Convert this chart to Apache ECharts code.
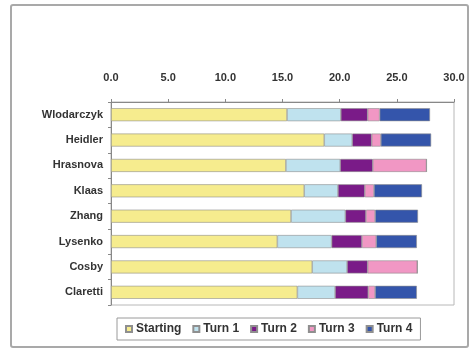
<!DOCTYPE html>
<html>
<head>
<meta charset="utf-8">
<script src="https://cdn.jsdelivr.net/npm/echarts@6/dist/echarts.min.js"></script>
<style>
  html, body { margin: 0; padding: 0; background: #ffffff; }
  #chart { width: 471px; height: 349px; }
</style>
</head>
<body>
<div id="chart"></div>
<script>
// Athletes, top row first
const athletes = ['Wlodarczyk', 'Heidler', 'Hrasnova', 'Klaas', 'Zhang', 'Lysenko', 'Cosby', 'Claretti'];

// Time spent in each phase of the throw
const starting = [15.4, 18.65, 15.3, 16.9, 15.75, 14.55, 17.6, 16.3];
const turn1    = [4.7, 2.45, 4.75, 2.95, 4.75, 4.75, 3.05, 3.3];
const turn2    = [2.35, 1.7, 2.85, 2.35, 1.8, 2.65, 1.8, 2.9];
const turn3    = [1.05, 0.8, 4.7, 0.8, 0.8, 1.25, 4.35, 0.6];
const turn4    = [4.4, 4.4, 0, 4.2, 3.75, 3.55, 0, 3.65];

const seriesNames = ['Starting', 'Turn 1', 'Turn 2', 'Turn 3', 'Turn 4'];
const seriesData = [starting, turn1, turn2, turn3, turn4];
const seriesColors = ['#f6ec8e', '#bfe2ee', '#7a1b88', '#f197c4', '#3455ab'];

const font = '"Liberation Sans", Arial, sans-serif';

const chart = echarts.init(document.getElementById('chart'), null, { renderer: 'canvas' });

chart.setOption({
  backgroundColor: '#ffffff',
  animation: false,
  graphic: [{
    type: 'rect',
    shape: { x: 11, y: 5, width: 457, height: 342, r: 2 },
    style: { fill: 'none', stroke: '#a9a9a9', lineWidth: 2 },
    z: -1
  }],
  grid: {
    left: 111, top: 102, right: 17, bottom: 44,
    show: true, borderColor: '#b8b8b8', borderWidth: 1, backgroundColor: 'transparent'
  },
  legend: {
    data: seriesNames,
    left: 117, top: 318,
    orient: 'horizontal',
    padding: [5, 8, 5, 8],
    borderColor: '#9a9a9a', borderWidth: 1,
    itemWidth: 6, itemHeight: 6, itemGap: 11,
    icon: 'rect',
    textStyle: { fontFamily: font, fontSize: 12, fontWeight: 'bold', color: '#333', padding: [0, 0, 0, -1] }
  },
  xAxis: {
    type: 'value',
    position: 'top',
    min: 0, max: 30, interval: 5,
    axisLine: { show: true, lineStyle: { color: '#888', width: 1 } },
    axisTick: { show: true, length: 3, lineStyle: { color: '#888' } },
    splitLine: { show: false },
    axisLabel: {
      formatter: v => v.toFixed(1),
      fontFamily: font, fontSize: 11, fontWeight: 'bold', color: '#333', margin: 19
    }
  },
  yAxis: {
    type: 'category',
    data: athletes,
    inverse: true,
    axisLine: { show: true, lineStyle: { color: '#888', width: 1 } },
    axisTick: { show: true, length: 3, lineStyle: { color: '#888' } },
    axisLabel: { fontFamily: font, fontSize: 11, fontWeight: 'bold', color: '#333', margin: 8 }
  },
  series: seriesNames.map((name, i) => ({
    name: name,
    type: 'bar',
    stack: 'total',
    barWidth: 13,
    data: seriesData[i],
    itemStyle: { color: seriesColors[i], borderColor: '#8f8f8f', borderWidth: 0.6 }
  }))
});
</script>
</body>
</html>
